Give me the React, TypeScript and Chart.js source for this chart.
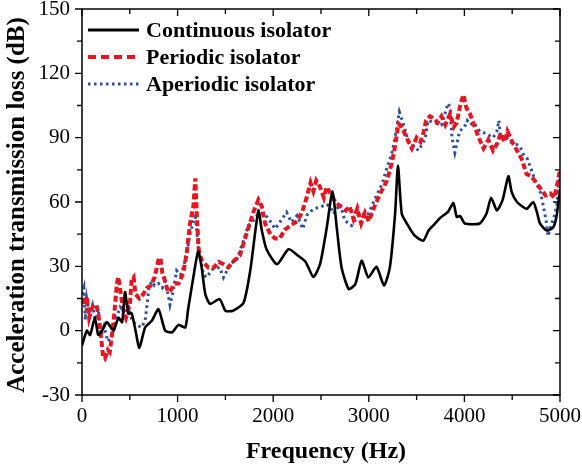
import React, { useEffect, useRef } from "react";
import { Chart, registerables } from "chart.js";

Chart.register(...registerables);

const xTicks = [0, 1000, 2000, 3000, 4000, 5000];
const yTicks = [-30, 0, 30, 60, 90, 120, 150];

const seriesNames = ["Continuous isolator", "Periodic isolator", "Aperiodic isolator"];

const contFreq = [0, 50, 85, 135, 170, 210, 260, 330, 380, 420, 450, 485, 520, 560, 600, 660, 730, 800, 870, 940, 1010, 1080, 1110, 1165, 1215, 1250, 1290, 1340, 1440, 1500, 1580, 1690, 1760, 1845, 1880, 1930, 2040, 2160, 2260, 2340, 2420, 2490, 2560, 2620, 2665, 2715, 2790, 2860, 2925, 2995, 3080, 3160, 3220, 3275, 3305, 3345, 3400, 3480, 3570, 3625, 3690, 3745, 3830, 3885, 3920, 3955, 4005, 4160, 4230, 4280, 4340, 4400, 4460, 4495, 4550, 4650, 4720, 4760, 4790, 4860, 4930, 4965, 5000];
const contLoss = [-7, 0, -2, 6, -2, 0, 4, 0, 6, 4, 18, 8, 8, 0, -8, 1.5, 4.6, 10, 0, -0.8, 2.7, 1.5, 10, 25, 37, 30, 17, 12.5, 14.7, 9.3, 9.3, 13, 28, 56, 47, 38, 31, 38, 35, 32, 25, 31, 48, 65, 48, 29.5, 19.4, 21.8, 32.6, 24.8, 29.8, 21, 29.5, 54.5, 77, 54.5, 49.8, 44.3, 42, 46.7, 49.8, 52.5, 55.5, 59.5, 53, 53.5, 50, 50, 54.5, 62, 56, 61, 72, 64.6, 60, 56.8, 60, 55, 50, 46.7, 48.2, 53.7, 66];

const perFreq = [0, 25, 50, 75, 100, 125, 150, 170, 200, 220, 240, 270, 290, 320, 340, 365, 380, 400, 430, 460, 500, 520, 540, 560, 600, 640, 680, 720, 760, 800, 820, 840, 870, 900, 930, 970, 1010, 1060, 1095, 1130, 1165, 1185, 1200, 1220, 1250, 1320, 1380, 1430, 1480, 1530, 1590, 1650, 1720, 1790, 1845, 1880, 1915, 1970, 2020, 2070, 2120, 2180, 2250, 2300, 2350, 2390, 2420, 2450, 2490, 2530, 2560, 2600, 2650, 2700, 2760, 2800, 2840, 2880, 2920, 2960, 3000, 3060, 3120, 3190, 3240, 3275, 3310, 3345, 3400, 3450, 3500, 3540, 3570, 3600, 3640, 3680, 3720, 3760, 3800, 3850, 3890, 3920, 3960, 3990, 4020, 4060, 4100, 4150, 4200, 4250, 4300, 4340, 4380, 4420, 4450, 4500, 4550, 4600, 4650, 4700, 4750, 4800, 4850, 4900, 4940, 4980, 5000];
const perLoss = [15, 12, 16, 6, 10, 12, 12, 8, -3, -12, -13, -9, -10, 0, 9, 22, 25, 19, 10, 6, 12, 24, 25, 17, 15, 17, 20, 21, 25, 33, 34, 27, 23, 18, 19, 22, 22, 27, 36, 50, 58, 71, 55, 38, 33, 29.5, 29.5, 32, 31, 29.5, 32.6, 35, 45, 55, 61, 58, 50, 45, 43, 43, 47, 49, 51, 55, 62, 69, 65, 70, 67, 62, 67, 64, 60, 58, 56, 58, 52, 57, 50, 55, 51, 58, 64, 70, 78, 86, 96.5, 95, 89.5, 85, 90, 88, 92, 98, 100, 99, 97, 100, 96, 101, 95, 97, 106, 110, 104, 101, 96, 90, 85, 89, 84, 87, 92, 88, 93, 88, 84, 80, 73, 72, 69, 66, 63, 64, 62, 70, 75];

const apeFreq = [0, 20, 35, 50, 80, 110, 140, 170, 200, 230, 270, 300, 330, 360, 400, 440, 480, 520, 560, 620, 660, 680, 700, 730, 760, 800, 840, 870, 900, 920, 955, 990, 1030, 1060, 1095, 1130, 1165, 1185, 1200, 1220, 1270, 1300, 1370, 1440, 1480, 1550, 1620, 1690, 1740, 1790, 1845, 1910, 1965, 2020, 2070, 2140, 2190, 2250, 2310, 2350, 2420, 2490, 2560, 2600, 2630, 2700, 2750, 2820, 2900, 2990, 3070, 3140, 3190, 3240, 3275, 3320, 3360, 3410, 3465, 3520, 3590, 3620, 3690, 3760, 3830, 3850, 3870, 3900, 3950, 4000, 4030, 4060, 4100, 4160, 4220, 4300, 4340, 4360, 4380, 4420, 4480, 4540, 4580, 4620, 4660, 4700, 4740, 4770, 4800, 4830, 4860, 4875, 4900, 4930, 4965, 5000];
const apeLoss = [17, 20, 5, 15, 8, 12, 5, 10, -2, 2, -5, -3, 0, 6, 11, 9, 13, 5, 3, 1.5, 4.6, 12, 20, 23, 21, 22, 20, 23, 17, 12, 18.6, 28, 26, 29.5, 36, 45, 51, 54.5, 47, 37, 26.4, 24.8, 28.8, 29.5, 24.8, 31, 33.4, 42, 49, 51.3, 54.5, 54.5, 51.3, 47.5, 50.6, 55.2, 50.6, 53.7, 47.5, 53.7, 56.8, 57.6, 59, 57.5, 54.5, 59, 51.3, 49, 54.5, 54, 62, 68.5, 76, 82.5, 90, 102, 96.6, 88.7, 86.4, 84, 89.5, 98, 97, 96, 106, 104, 90, 83, 93, 95, 98, 96, 97, 93, 92, 90, 93, 98, 90, 91, 88, 87, 86, 82, 80, 75, 70, 67, 64, 57, 50, 44, 48, 52, 57.6, 75];

const BLACK = "#000000";
const RED = "#e8141e";
const BLUE = "#2a4fa6";
const SERIF = "'Liberation Serif', 'Times New Roman', serif";

const toPts = (xs: number[], ys: number[]) => xs.map((x, i) => ({ x, y: ys[i] }));

const framePlugin = {
  id: "framePlugin",
  afterDraw(chart: any) {
    const { ctx, chartArea, scales } = chart;
    const { left, right, top, bottom } = chartArea;
    const xs = scales.x;
    const ys = scales.y;
    ctx.save();
    ctx.strokeStyle = "#000";
    ctx.lineWidth = 1.5;
    ctx.strokeRect(left, top, right - left, bottom - top);
    ctx.lineWidth = 1.3;
    ctx.beginPath();
    for (let v = 0; v <= 5000; v += 500) {
      const px = xs.getPixelForValue(v);
      const major = v % 1000 === 0;
      const len = major ? 7 : 5;
      ctx.moveTo(px, bottom);
      ctx.lineTo(px, bottom + len);
      ctx.moveTo(px, top);
      ctx.lineTo(px, top + len);
    }
    for (let v = -30; v <= 150; v += 15) {
      const py = ys.getPixelForValue(v);
      const major = v % 30 === 0;
      const len = major ? 7 : 5;
      ctx.moveTo(left, py);
      ctx.lineTo(left - len, py);
      ctx.moveTo(right, py);
      ctx.lineTo(right - len, py);
    }
    ctx.stroke();

    // axis titles
    ctx.fillStyle = "#000";
    ctx.font = `bold 24px ${SERIF}`;
    ctx.textAlign = "center";
    ctx.textBaseline = "middle";
    ctx.fillText("Frequency (Hz)", (left + right) / 2 + 5, 452);
    ctx.save();
    ctx.translate(18, 205);
    ctx.rotate(-Math.PI / 2);
    ctx.font = `bold 25px ${SERIF}`;
    ctx.fillText("Acceleration transmission loss (dB)", 0, 0);
    ctx.restore();

    // legend
    const rows = [30, 57, 84];
    const styles = [
      { c: BLACK, w: 3, d: [] as number[] },
      { c: RED, w: 4, d: [8, 5] },
      { c: BLUE, w: 3, d: [2.5, 3.5] },
    ];
    ctx.font = `bold 22px ${SERIF}`;
    ctx.textAlign = "left";
    rows.forEach((ry, i) => {
      const s = styles[i];
      ctx.save();
      ctx.strokeStyle = s.c;
      ctx.lineWidth = s.w;
      ctx.setLineDash(s.d);
      ctx.beginPath();
      ctx.moveTo(88, ry);
      ctx.lineTo(139, ry);
      ctx.stroke();
      ctx.restore();
      ctx.fillStyle = "#000";
      ctx.fillText(seriesNames[i], 146, ry + 1);
    });
    ctx.restore();
  },
};

const zeroPad = (s: any) => {
  s.paddingTop = 0;
  s.paddingBottom = 0;
  s.paddingLeft = 0;
  s.paddingRight = 0;
};

export default function App() {
  const ref = useRef<HTMLCanvasElement | null>(null);
  useEffect(() => {
    if (!ref.current) return;
    const chart = new Chart(ref.current, {
      type: "line",
      data: {
        datasets: [
          {
            label: seriesNames[0],
            data: toPts(contFreq, contLoss),
            borderColor: BLACK,
            borderWidth: 2.6,
            pointRadius: 0,
            tension: 0.2,
          },
          {
            label: seriesNames[1],
            data: toPts(perFreq, perLoss),
            borderColor: RED,
            borderWidth: 4,
            borderDash: [6, 3],
            pointRadius: 0,
            tension: 0,
          },
          {
            label: seriesNames[2],
            data: toPts(apeFreq, apeLoss),
            borderColor: BLUE,
            borderWidth: 3,
            borderDash: [2.5, 3.5],
            pointRadius: 0,
            tension: 0,
          },
        ],
      },
      options: {
        responsive: false,
        animation: false,
        layout: { padding: { left: 0, right: 22, top: 9, bottom: 0 } },
        plugins: { legend: { display: false }, tooltip: { enabled: false } },
        scales: {
          x: {
            type: "linear",
            min: 0,
            max: 5000,
            afterBuildTicks: (s: any) => {
              s.ticks = xTicks.map((v) => ({ value: v }));
            },
            afterFit: (s: any) => {
              s.height = 78;
              zeroPad(s);
            },
            ticks: {
              color: "#000",
              font: { family: SERIF, size: 21 },
              padding: 9,
              maxRotation: 0,
              autoSkip: false,
              callback: (v: any) => String(v),
            },
            grid: { display: false, drawTicks: false },
            border: { display: false },
          },
          y: {
            type: "linear",
            min: -30,
            max: 150,
            afterBuildTicks: (s: any) => {
              s.ticks = yTicks.map((v) => ({ value: v }));
            },
            afterFit: (s: any) => {
              s.width = 82;
              zeroPad(s);
            },
            ticks: {
              color: "#000",
              font: { family: SERIF, size: 21 },
              padding: 12,
              autoSkip: false,
              callback: (v: any) => String(v),
            },
            grid: { display: false, drawTicks: false },
            border: { display: false },
          },
        },
      },
      plugins: [framePlugin],
    });
    return () => chart.destroy();
  }, []);
  return (
    <div style={{ position: "absolute", left: 0, top: 0, width: 582, height: 473, background: "#fff" }}>
      <canvas ref={ref} width={582} height={473} style={{ display: "block" }} />
    </div>
  );
}
